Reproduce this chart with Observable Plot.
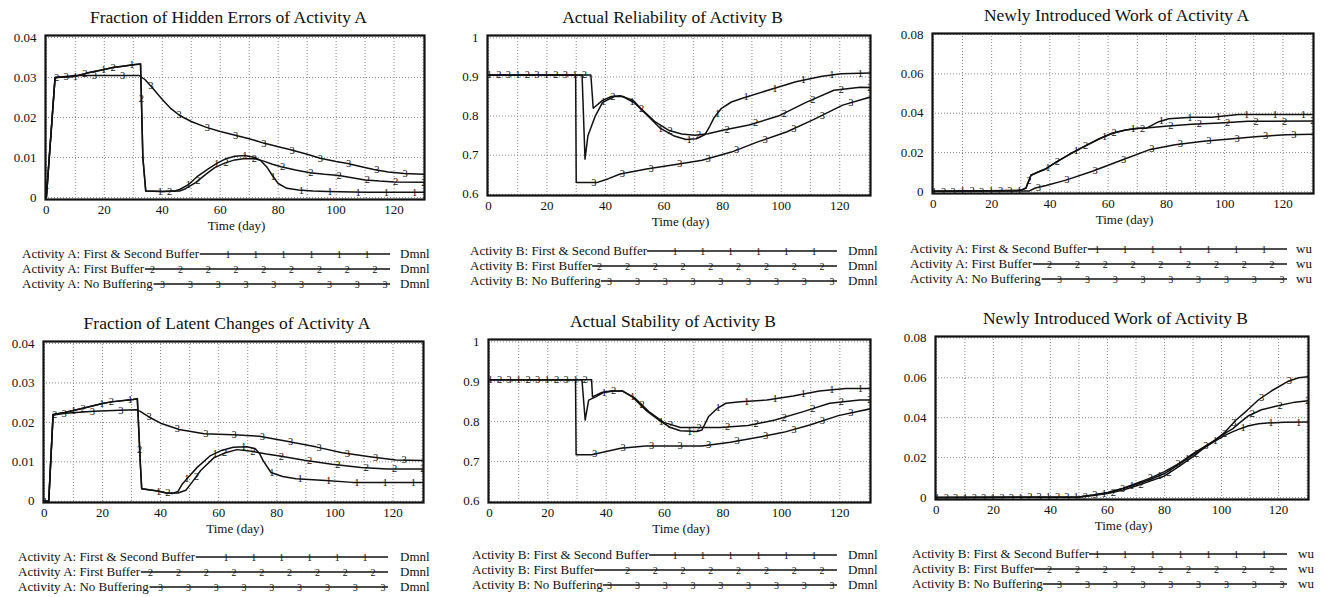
<!DOCTYPE html>
<html><head><meta charset="utf-8">
<script src="https://cdn.jsdelivr.net/npm/d3@7"></script>
<script src="https://cdn.jsdelivr.net/npm/@observablehq/plot@0.6"></script>
<style>
body{margin:0;background:#fff;font-family:"Liberation Serif","Times New Roman",serif;}
#root{position:relative;width:1325px;height:597px;overflow:hidden;background:#fff}
#root svg, #root svg text{font-family:"Liberation Serif","Times New Roman",serif !important;}
.title{position:absolute;font-size:17.5px;white-space:nowrap;transform:translate(-50%,-50%);color:#111}
.xlabel{position:absolute;font-size:13px;white-space:nowrap;transform:translate(-50%,-50%);color:#111}
</style></head><body><div id="root"></div><script>
// ---------- data ----------
const titles = [
  "Fraction of Hidden Errors of Activity A",
  "Actual Reliability of Activity B",
  "Newly Introduced Work of Activity A",
  "Fraction of Latent Changes of Activity A",
  "Actual Stability of Activity B",
  "Newly Introduced Work of Activity B"
];
const legendNamesA = ["Activity A: First & Second Buffer","Activity A: First Buffer","Activity A: No Buffering"];
const legendNamesB = ["Activity B: First & Second Buffer","Activity B: First Buffer","Activity B: No Buffering"];
const units = ["Dmnl","Dmnl","wu","Dmnl","Dmnl","wu"];
const markerLabels = ["1","2","3"];
const xTicks = [0,20,40,60,80,100,120];
const xGrid = [0,10,20,30,40,50,60,70,80,90,100,110,120,130];
const ticksFraction = [0,0.01,0.02,0.03,0.04];
const ticksRatio = [0.6,0.7,0.8,0.9,1];
const ticksWork = [0,0.02,0.04,0.06,0.08];

// Fraction of Hidden Errors of Activity A
const hiddenA_1 = [[0,0],[3,0.0300],[7,0.0301],[10,0.0303],[14,0.0311],[20,0.0320],[23,0.0325],[27,0.0329],[30,0.0332],[32.5,0.0334],[33.3,0.010],[34.3,0.0016],[40,0.0015],[44,0.0016],[46,0.0020],[49,0.0032],[52,0.0052],[56,0.0072],[59,0.0086],[62,0.0097],[65,0.0103],[68.5,0.0105],[72,0.0100],[74,0.0092],[76,0.0077],[78,0.0055],[80,0.0035],[83,0.0023],[87,0.0019],[92,0.0016],[97,0.0015],[110,0.0013],[131,0.0013]];
const hiddenA_2 = [[0,0],[3,0.0300],[7,0.0301],[10,0.0303],[14,0.0311],[20,0.0320],[23,0.0325],[27,0.0329],[30,0.0332],[32.5,0.0334],[33.3,0.010],[34.3,0.0016],[40,0.0015],[46,0.0016],[48,0.0022],[51.5,0.0037],[55,0.0058],[58,0.0074],[61.5,0.0086],[65,0.0094],[68,0.0097],[72,0.0097],[75,0.0091],[78,0.0083],[81,0.0077],[86,0.0069],[91,0.0062],[96,0.0058],[101,0.0055],[106,0.0049],[110,0.0044],[115,0.0041],[120,0.0039],[131,0.0038]];
const hiddenA_3 = [[0,0],[3,0.0300],[10,0.0305],[20,0.0305],[32,0.0305],[34,0.0295],[36.5,0.0275],[40,0.0245],[43,0.0222],[46,0.0205],[50,0.0190],[55,0.0176],[60,0.0165],[65.5,0.0155],[70,0.0147],[75,0.0136],[80,0.0127],[84,0.0120],[90,0.0108],[94.5,0.0098],[100,0.0090],[104,0.0085],[108,0.0078],[113,0.0070],[118,0.0064],[123.5,0.0060],[131,0.0058]];

// Actual Reliability of Activity B
const reliabB_1 = [[0,0.905],[32,0.905],[33,0.69],[34,0.75],[36.5,0.80],[39,0.835],[43,0.85],[46,0.85],[50,0.833],[54.5,0.80],[58.5,0.77],[63.5,0.749],[67.5,0.740],[71,0.742],[74,0.753],[75.6,0.774],[77,0.795],[79.6,0.82],[83,0.836],[86.5,0.845],[95.5,0.866],[105,0.888],[114,0.902],[120.5,0.908],[131,0.91]];
const reliabB_2 = [[0,0.905],[35,0.905],[35.8,0.82],[39,0.84],[42,0.85],[45,0.852],[49.5,0.84],[52,0.82],[57,0.785],[61.5,0.764],[66,0.754],[70.5,0.751],[75,0.755],[80,0.764],[89,0.777],[99,0.80],[108.5,0.835],[118,0.866],[127,0.874],[131,0.873]];
const reliabB_3 = [[0,0.905],[29.8,0.905],[30,0.63],[37,0.63],[41,0.64],[45,0.652],[54,0.665],[64,0.676],[73,0.687],[83,0.708],[92,0.734],[102,0.76],[111,0.791],[121,0.828],[131,0.85]];

// Newly Introduced Work of Activity A
const workA_1 = [[0,0.0003],[30,0.0008],[31.8,0.002],[33.5,0.0085],[35.8,0.010],[38.7,0.0118],[42,0.015],[46.6,0.019],[51,0.0225],[57,0.027],[61.4,0.0298],[66,0.0315],[70,0.0323],[73,0.0323],[77.4,0.0357],[80.8,0.0372],[88.7,0.038],[95.6,0.038],[104.7,0.0393],[131,0.0393]];
const workA_2 = [[0,0.0003],[30,0.0008],[31.8,0.002],[33.5,0.0085],[35.8,0.010],[38.7,0.0118],[42,0.015],[46.6,0.019],[51,0.0225],[57,0.027],[61.4,0.0298],[66,0.0315],[70,0.0322],[73,0.0325],[79.6,0.0334],[88.7,0.0344],[98.4,0.035],[108,0.0359],[131,0.036]];
const workA_3 = [[0,0.0003],[33,0.0005],[35,0.002],[38.7,0.0033],[45.5,0.006],[54.6,0.0105],[64.3,0.016],[74.5,0.0216],[83,0.024],[92.7,0.0257],[101.8,0.0269],[111.5,0.0282],[121,0.029],[131,0.0293]];

// Fraction of Latent Changes of Activity A
const latentA_1 = [[0,0],[1.5,0],[3,0.022],[7,0.0225],[10,0.023],[14,0.0237],[20,0.0248],[23,0.0252],[30.5,0.0258],[32,0.026],[33,0.010],[33.5,0.0032],[39,0.0026],[42,0.0021],[44,0.002],[46,0.0025],[47.5,0.0044],[50,0.0065],[52.6,0.0086],[57,0.0115],[61,0.0129],[65,0.0137],[69.6,0.0138],[72.5,0.0134],[74,0.0122],[75.3,0.0103],[78,0.0073],[82,0.0063],[86.6,0.0057],[96.8,0.0053],[106,0.0048],[131,0.0048]];
const latentA_2 = [[0,0],[1.5,0],[3,0.022],[7,0.0225],[10,0.023],[14,0.0237],[20,0.0248],[23,0.0252],[30.5,0.0258],[32,0.026],[33,0.010],[33.5,0.0032],[39,0.0026],[42,0.0021],[46,0.0021],[48.7,0.0028],[51,0.0050],[53.8,0.0078],[58.3,0.011],[62.3,0.0123],[66.3,0.0131],[71.3,0.0127],[76.4,0.012],[81,0.0115],[89.5,0.0104],[99,0.0094],[109,0.0086],[118,0.0082],[131,0.0082]];
const latentA_3 = [[0,0],[1.5,0],[3,0.0219],[7.4,0.0223],[17,0.0228],[26,0.0231],[31.7,0.0232],[33,0.0228],[35.7,0.0215],[40,0.0198],[46.4,0.0182],[55,0.0171],[65,0.0169],[74,0.0165],[83,0.0153],[93.4,0.0138],[102.5,0.0123],[112,0.0113],[121,0.0105],[131,0.0103]];

// Actual Stability of Activity B
const stabB_1 = [[0,0.905],[31.7,0.905],[32.8,0.804],[34,0.854],[36.4,0.862],[39,0.873],[42.6,0.877],[45.5,0.877],[49,0.862],[53.5,0.829],[58,0.804],[62,0.785],[65.4,0.777],[71,0.775],[72.8,0.779],[75,0.812],[78,0.833],[81,0.846],[86,0.85],[95,0.854],[104,0.864],[113,0.877],[122,0.883],[131,0.883]];
const stabB_2 = [[0,0.905],[35,0.905],[35.3,0.862],[38.5,0.873],[41.5,0.877],[45.5,0.877],[50,0.858],[54.6,0.825],[59.7,0.798],[65.4,0.785],[70,0.785],[79,0.785],[88.6,0.79],[97.8,0.804],[107.5,0.825],[116.5,0.846],[126.8,0.854],[131,0.854]];
const stabB_3 = [[0,0.905],[29.5,0.905],[29.7,0.717],[35,0.717],[45,0.733],[53.5,0.739],[63.7,0.739],[72.8,0.739],[82.5,0.748],[91.6,0.76],[100.7,0.773],[110,0.792],[119.5,0.815],[131,0.833]];

// Newly Introduced Work of Activity B
const workB_1 = [[0,0],[50,0.0003],[55,0.0012],[60,0.0023],[65.5,0.0045],[70,0.0065],[75,0.009],[80,0.012],[85,0.0165],[90,0.0215],[94,0.025],[98,0.0285],[101,0.031],[104,0.033],[106.6,0.0345],[109.5,0.036],[113,0.037],[116,0.0373],[122,0.0377],[131,0.0378]];
const workB_2 = [[0,0],[50,0.0003],[55,0.001],[60,0.002],[65.5,0.0038],[70,0.0058],[75,0.0082],[80,0.0108],[85,0.0155],[90,0.0205],[94,0.025],[98,0.029],[101,0.032],[104,0.0345],[106,0.037],[109.5,0.041],[114,0.044],[119,0.0457],[125.7,0.0478],[131,0.0486]];
const workB_3 = [[0,0],[50,0.0003],[55,0.0013],[60,0.0025],[65.5,0.0047],[70,0.007],[75,0.0097],[80,0.013],[85,0.017],[90,0.022],[94,0.0255],[98,0.029],[101,0.0325],[105,0.0387],[109,0.0437],[113,0.049],[117.6,0.0535],[123,0.058],[127,0.060],[131,0.0607]];

// ---------- layout (page pixels) ----------
const panelSeries = [
  [hiddenA_1,hiddenA_2,hiddenA_3],[reliabB_1,reliabB_2,reliabB_3],[workA_1,workA_2,workA_3],
  [latentA_1,latentA_2,latentA_3],[stabB_1,stabB_2,stabB_3],[workB_1,workB_2,workB_3]
];
const panelNames = [legendNamesA,legendNamesB,legendNamesA,legendNamesA,legendNamesB,legendNamesB];
const panelTicks = [ticksFraction,ticksRatio,ticksWork,ticksFraction,ticksRatio,ticksWork];
const panelDomains = [[-0.0005,0.0405],[0.597,1.006],[-0.0008,0.0805],[-0.0003,0.0405],[0.597,1.006],[-0.001,0.0807]];
const frames = [[45,424,35,199],[487,870,35,195],[932,1313,33,193],[43,423,341,502],[488,870,339,502],[935,1308,336,499]];
const legendPos = [
  {x:22,end:390,unit:400,ys:[254,269,284]},
  {x:470,end:837,unit:848,ys:[251,266,281]},
  {x:910,end:1287,unit:1296,ys:[249,264,279]},
  {x:18,end:388,unit:400,ys:[557,572,587]},
  {x:472,end:837,unit:848,ys:[555,570,585]},
  {x:912,end:1287,unit:1298,ys:[554,569,584]}
];
const markerStep = 9.75, markerOffsets = [0.3,3.55,6.8];

function interp(s, t) {
  if (t <= s[0][0]) return s[0][1];
  for (let i = 0; i < s.length - 1; i++) {
    const [t0,v0] = s[i], [t1,v1] = s[i+1];
    if (t >= t0 && t <= t1) return t1 === t0 ? v1 : v0 + (v1 - v0) * (t - t0) / (t1 - t0);
  }
  return s[s.length-1][1];
}
const fmt = d => String(+d.toFixed(3));

const root = document.getElementById("root");
const FONT = "Liberation Serif";

frames.forEach((F, i) => {
  const [fl, fr, ft, fb] = F;
  const mL = 46, mR = 4, mT = 4, mB = 30;
  const series = panelSeries[i];
  const data = series.flatMap((s, k) => s.map(([t, v]) => ({t, v, k})));
  const markers = [];
  series.forEach((s, k) => {
    for (let t = markerOffsets[k]; t <= 130.5; t += markerStep) markers.push({t, v: interp(s, t), label: markerLabels[k]});
  });
  const chart = Plot.plot({
    width: fr - fl + mL + mR, height: fb - ft + mT + mB,
    marginLeft: mL, marginRight: mR, marginTop: mT, marginBottom: mB,
    x: {domain: [-0.3, 130.5]},
    y: {domain: panelDomains[i]},
    style: {fontFamily: FONT, fontSize: "13px", color: "#111", background: "transparent", overflow: "visible"},
    marks: [
      Plot.gridX(xGrid, {stroke: "#8a8a8a", strokeOpacity: 1, strokeDasharray: "1,2"}),
      Plot.gridY(panelTicks[i], {stroke: "#8a8a8a", strokeOpacity: 1, strokeDasharray: "1,2"}),
      Plot.line(data, {x: "t", y: "v", z: "k", stroke: "#111", strokeWidth: 1.5, clip: true}),
      Plot.text(markers, {x: "t", y: "v", text: "label", fontSize: 10.5, fill: "#111", fontFamily: FONT, clip: true}),
      Plot.frame({stroke: "#111", strokeWidth: 2.2}),
      Plot.axisX(xTicks, {tickSize: 0, tickPadding: 5, label: null, fontSize: 13, fontFamily: FONT, tickFormat: fmt}),
      Plot.axisY(panelTicks[i], {tickSize: 0, tickPadding: 9, label: null, fontSize: 13, fontFamily: FONT, tickFormat: fmt})
    ]
  });
  chart.style.position = "absolute";
  chart.style.left = (fl - mL) + "px";
  chart.style.top = (ft - mT) + "px";
  root.append(chart);

  const title = document.createElement("div");
  title.className = "title";
  title.textContent = titles[i];
  title.style.left = ((fl + fr) / 2 - 6) + "px";
  title.style.top = (ft - 18) + "px";
  root.append(title);

  const xl = document.createElement("div");
  xl.className = "xlabel";
  xl.textContent = "Time (day)";
  xl.style.left = ((fl + fr) / 2 + 2) + "px";
  xl.style.top = (fb + 27) + "px";
  root.append(xl);
});

// ---------- legends ----------
const LFS = 13;
const ctx = document.createElement("canvas").getContext("2d");
ctx.font = `${LFS}px "${FONT}"`;
const lsvg = d3.create("svg").attr("width", 1325).attr("height", 597)
  .style("position", "absolute").style("left", "0px").style("top", "0px");
legendPos.forEach((L, i) => {
  panelNames[i].forEach((name, r) => {
    const y = L.ys[r];
    const w = ctx.measureText(name).width;
    lsvg.append("text").attr("x", L.x).attr("y", y + 4).attr("font-size", LFS).attr("fill", "#111").text(name);
    lsvg.append("line").attr("x1", L.x + w).attr("x2", L.end).attr("y1", y).attr("y2", y).attr("stroke", "#111").attr("stroke-width", 1.3);
    const backs = [23, 15, 5];
    for (let mx = L.end - backs[r]; mx > L.x + w + 6; mx -= 27.8) {
      lsvg.append("text").attr("x", mx).attr("y", y).attr("font-size", 10).attr("text-anchor", "middle")
        .attr("dominant-baseline", "central").attr("fill", "#111").text(markerLabels[r]);
    }
    lsvg.append("text").attr("x", L.unit).attr("y", y + 4).attr("font-size", LFS).attr("fill", "#111").text(units[i]);
  });
});
root.append(lsvg.node());
</script></body></html>
